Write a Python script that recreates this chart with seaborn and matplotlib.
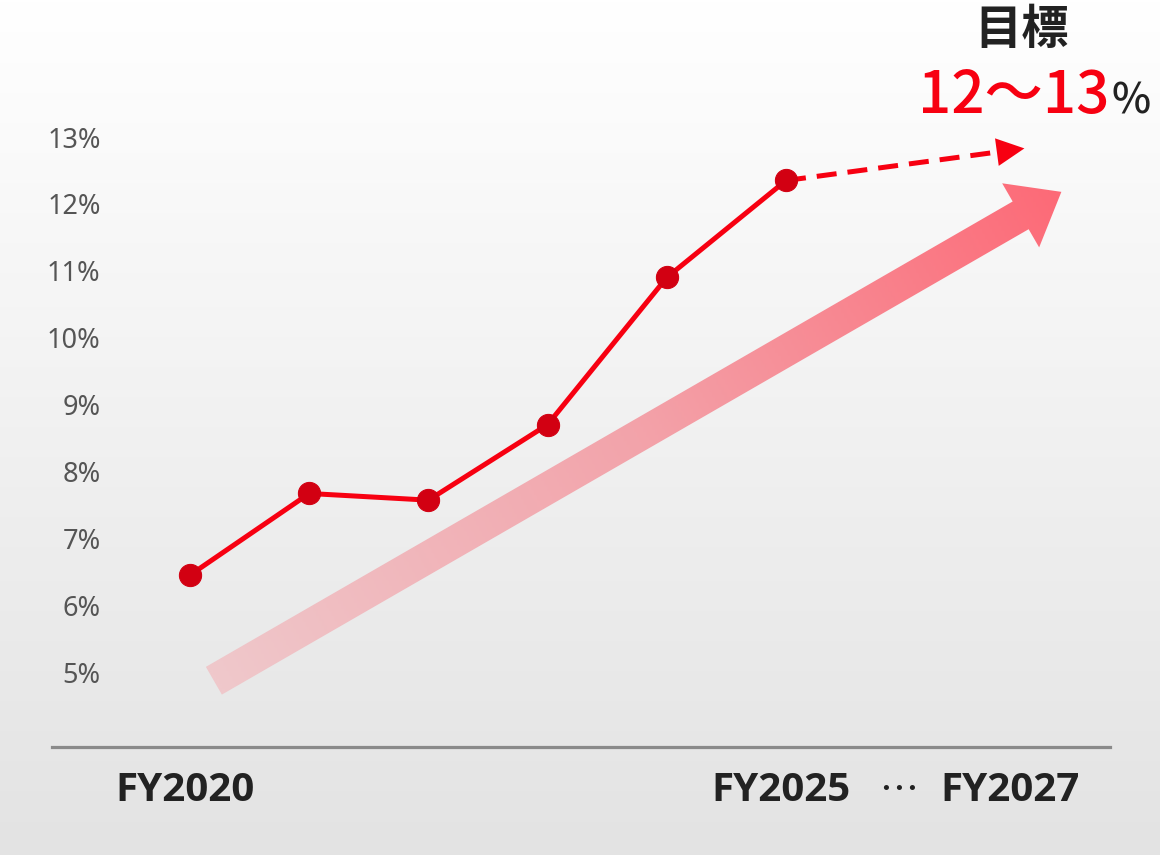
import numpy as np
import matplotlib.pyplot as plt
import seaborn as sns
import pandas as pd
from matplotlib.patches import Polygon
from matplotlib.colors import LinearSegmentedColormap

# Data
years = ["FY2020", "FY2021", "FY2022", "FY2023", "FY2024", "FY2025"]
ratio = [6.45, 7.67, 7.57, 8.70, 10.90, 12.35]
target_pos = 7          # FY2027 on the category axis
target_ratio = 12.83
ytick_values = [5, 6, 7, 8, 9, 10, 11, 12, 13]
xtick_pos = [-0.04, 4.96, 5.94, 6.88]
xtick_labels = ["FY2020", "FY2025", "…", "FY2027"]

df = pd.DataFrame({"pos": range(len(years)), "year": years, "ratio": ratio})

sns.set_style("white")
plt.rcParams["font.family"] = ["Noto Sans", "Noto Sans CJK JP", "DejaVu Sans"]

RED = "#f70011"
DARK_RED = "#d20012"
CJK = ["Noto Sans CJK JP", "DejaVu Sans"]

fig = plt.figure(figsize=(11.6, 8.55), dpi=100)

# Background gradient (white at top to light grey at bottom)
bg = fig.add_axes([0, 0, 1, 1], zorder=-1)
grad = np.linspace(0, 1, 256).reshape(-1, 1)
bg_cmap = LinearSegmentedColormap.from_list("bg", ["#ffffff", "#e3e3e3"])
bg.imshow(grad, aspect="auto", cmap=bg_cmap, extent=[0, 1, 1, 0])
bg.axis("off")

ax = fig.add_axes([52 / 1160, 108 / 855, 1058 / 1160, 747 / 855])
ax.set_facecolor("none")
ax.set_xlim(-1.158, 7.718)
ax.set_ylim(3.879, 15.049)

# Big trend arrow with gradient, built in pixel space then mapped to data
tail = ax.transData.transform((0.2, 4.87))
tip = ax.transData.transform((7.31, 12.18))
vec = tip - tail
L = np.hypot(*vec)
d = vec / L
n = np.array([-d[1], d[0]])
w, hw, hl = 32, 74, 47
base = tail + d * (L - hl)
pts = [tail + n * w / 2, base + n * w / 2, base + n * hw / 2, tip,
       base - n * hw / 2, base - n * w / 2, tail - n * w / 2]
inv = ax.transData.inverted()
pts_data = inv.transform(np.array(pts))
arrow_patch = Polygon(pts_data, closed=True, facecolor="none", edgecolor="none")
ax.add_patch(arrow_patch)

x0, x1 = pts_data[:, 0].min(), pts_data[:, 0].max()
y0, y1 = pts_data[:, 1].min(), pts_data[:, 1].max()
gx, gy = np.meshgrid(np.linspace(x0, x1, 300), np.linspace(y0, y1, 300))
disp = ax.transData.transform(np.column_stack([gx.ravel(), gy.ravel()]))
t = ((disp - tail) @ d / L).reshape(gx.shape)
arrow_cmap = LinearSegmentedColormap.from_list("arr", ["#efc8cb", "#f3a3aa", "#fd6a77"])
img = ax.imshow(t, extent=[x0, x1, y0, y1], origin="lower", aspect="auto",
                cmap=arrow_cmap, vmin=0, vmax=1, interpolation="bilinear", zorder=1)
img.set_clip_path(arrow_patch)

# Actual values line
sns.lineplot(data=df, x="pos", y="ratio", color=RED, linewidth=3.6, ax=ax,
             marker="o", markersize=16, markerfacecolor=DARK_RED,
             markeredgecolor=DARK_RED, zorder=3)

# Dashed projection to target
last_x, last_y = df["pos"].iloc[-1], df["ratio"].iloc[-1]
head_x = target_pos - 0.23
head_y = last_y + (target_ratio - last_y) * (head_x - last_x) / (target_pos - last_x)
ax.plot([last_x, head_x], [last_y, head_y], color=RED, linewidth=3.6,
        linestyle=(0, (4, 2.2)), zorder=2)
ax.annotate("", xy=(target_pos, target_ratio), xytext=(head_x, head_y),
            arrowprops=dict(arrowstyle="-|>,head_length=1.0,head_width=0.5",
                            color=RED, lw=0, mutation_scale=20, shrinkA=0, shrinkB=0),
            zorder=2)

# Axes styling
for side in ["top", "right", "left"]:
    ax.spines[side].set_visible(False)
ax.spines["bottom"].set_color("#8a8a8a")
ax.spines["bottom"].set_linewidth(2.3)

ax.set_yticks(ytick_values)
ax.set_yticklabels([f"{v}%" for v in ytick_values], fontsize=19.5, color="#555555")
ax.tick_params(axis="y", length=0, pad=-35)

ax.set_xticks(xtick_pos)
ax.set_xticklabels(xtick_labels, fontsize=29, fontweight="bold", color="#222222",
                   family=["Open Sans", "DejaVu Sans"])
ax.tick_params(axis="x", length=0, pad=17)
for lbl in ax.get_xticklabels():
    if lbl.get_text() == "…":
        lbl.set_family(CJK)
        lbl.set_fontweight("normal")
        lbl.set_fontsize(28)
ax.set_xlabel("")
ax.set_ylabel("")

# Target annotation
fig.text(1022 / 1160, 1 - 30 / 855, "目標", ha="center", va="center",
         fontsize=34, fontweight="bold", color="#222222", family=CJK)
fig.text(1014 / 1160, 1 - 113 / 855, "12〜13", ha="center", va="baseline",
         fontsize=42, fontweight="medium", color=RED, family=CJK)
fig.text(1131 / 1160, 1 - 113 / 855, "%", ha="center", va="baseline",
         fontsize=30, fontweight="medium", color="#222222", family=CJK)

fig.savefig("out.png", dpi=100)
